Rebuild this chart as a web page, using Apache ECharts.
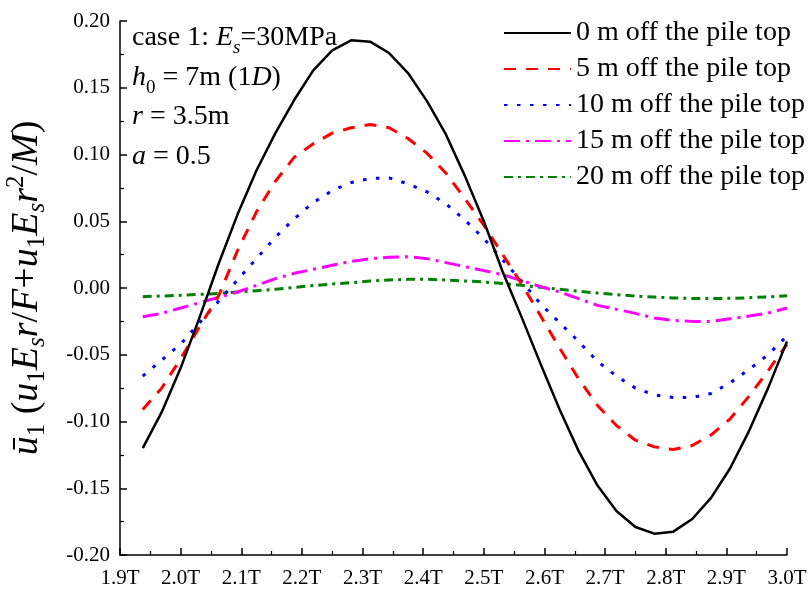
<!DOCTYPE html>
<html>
<head>
<meta charset="utf-8">
<script src="https://cdn.jsdelivr.net/npm/echarts@6/dist/echarts.min.js"></script>
<style>
  html, body { margin: 0; padding: 0; background: #ffffff; }
  #chart { width: 810px; height: 594px; }
</style>
</head>
<body>
<div id="chart"></div>
<script>
// Sampling instants, in periods T
const timeT = [1.9375, 1.96875, 2.0, 2.03125, 2.0625, 2.09375, 2.125, 2.15625, 2.1875, 2.21875,
  2.25, 2.28125, 2.3125, 2.34375, 2.375, 2.40625, 2.4375, 2.46875, 2.5, 2.53125,
  2.5625, 2.59375, 2.625, 2.65625, 2.6875, 2.71875, 2.75, 2.78125, 2.8125, 2.84375,
  2.875, 2.90625, 2.9375, 2.96875, 3.0];

// Normalised displacement at each depth below the pile top
const depth0m = [-0.120, -0.093, -0.060, -0.022, 0.018, 0.055, 0.088, 0.116, 0.141, 0.163,
  0.178, 0.1855, 0.1845, 0.176, 0.161, 0.140, 0.115, 0.084, 0.050, 0.012,
  -0.022, -0.057, -0.091, -0.122, -0.148, -0.167, -0.179, -0.184, -0.1825, -0.173,
  -0.157, -0.135, -0.107, -0.075, -0.040];
const depth5m = [-0.091, -0.075, -0.053, -0.029, -0.006, 0.028, 0.057, 0.080, 0.098, 0.108,
  0.116, 0.120, 0.1225, 0.120, 0.112, 0.101, 0.086, 0.067, 0.047, 0.025,
  0.003, -0.021, -0.045, -0.068, -0.088, -0.103, -0.114, -0.119, -0.121, -0.118,
  -0.110, -0.098, -0.081, -0.062, -0.042];
const depth10m = [-0.066, -0.054, -0.042, -0.026, -0.010, 0.006, 0.022, 0.038, 0.052, 0.064,
  0.073, 0.079, 0.082, 0.0825, 0.078, 0.072, 0.063, 0.051, 0.037, 0.021,
  0.005, -0.012, -0.026, -0.040, -0.055, -0.066, -0.075, -0.080, -0.082, -0.082,
  -0.079, -0.071, -0.061, -0.050, -0.036];
const depth15m = [-0.0215, -0.019, -0.015, -0.011, -0.007, -0.003, 0.002, 0.007, 0.011, 0.014,
  0.017, 0.020, 0.022, 0.023, 0.0235, 0.022, 0.019, 0.016, 0.013, 0.010,
  0.0055, 0.001, -0.003, -0.008, -0.013, -0.016, -0.019, -0.0225, -0.0243, -0.025,
  -0.025, -0.023, -0.021, -0.0187, -0.015];
const depth20m = [-0.0065, -0.006, -0.0055, -0.0048, -0.004, -0.003, -0.002, -0.001, 0.0005, 0.0018,
  0.003, 0.004, 0.0052, 0.006, 0.0065, 0.0065, 0.006, 0.0053, 0.0045, 0.0033,
  0.002, 0.0005, -0.001, -0.0024, -0.0038, -0.005, -0.006, -0.0068, -0.0074, -0.0078,
  -0.0079, -0.0077, -0.0073, -0.0066, -0.0058];

const seriesNames = ['0 m off the pile top', '5 m off the pile top', '10 m off the pile top',
  '15 m off the pile top', '20 m off the pile top'];

// Axis tick labels
const xTickLabels = ['1.9T', '2.0T', '2.1T', '2.2T', '2.3T', '2.4T', '2.5T', '2.6T', '2.7T', '2.8T', '2.9T', '3.0T'];
const yTickLabels = ['-0.20', '-0.15', '-0.10', '-0.05', '0.00', '0.05', '0.10', '0.15', '0.20'];

const FONT = 'Liberation Serif';

function pairs(values) {
  return timeT.map((t, i) => [t, values[i]]);
}

const styles = [
  { color: '#000000', width: 2.5, type: 'solid' },
  { color: '#ff0000', width: 3, type: [12, 10] },
  { color: '#0000ff', width: 3, type: [3.5, 9.5] },
  { color: '#ff00ff', width: 3, type: [16, 6, 3, 6] },
  { color: '#008000', width: 3, type: [9, 5, 3, 5] }
];
const allValues = [depth0m, depth5m, depth10m, depth15m, depth20m];

const series = allValues.map((vals, k) => ({
  name: seriesNames[k],
  type: 'line',
  data: pairs(vals),
  symbol: 'none',
  showSymbol: false,
  smooth: false,
  z: 10 - k,
  color: styles[k].color,
  lineStyle: { color: styles[k].color, width: styles[k].width, type: styles[k].type, cap: 'butt', join: 'round' }
}));

const sub = { fontFamily: FONT, fontSize: 25, lineHeight: 18, verticalAlign: 'bottom', color: '#000' };
const sup = { fontFamily: FONT, fontSize: 25, lineHeight: 24, verticalAlign: 'top', color: '#000' };
const titleRich = {
  it: { fontFamily: FONT, fontStyle: 'italic', fontSize: 38, lineHeight: 46, color: '#000' },
  up: { fontFamily: FONT, fontSize: 38, lineHeight: 46, color: '#000' },
  sb: sub,
  sbi: Object.assign({}, sub, { fontStyle: 'italic' }),
  sp: sup
};
const yTitle = '{it|ū}{sb|1}{up| (}{it|u}{sb|1}{it|E}{sbi|s}{it|r}{up|/}{it|F}{up|+}{it|u}{sb|1}{it|E}{sbi|s}{it|r}{sp|2}{up|/}{it|M}{up|)}';

const noteRich = {
  n: { fontFamily: FONT, fontSize: 28, lineHeight: 39.5, color: '#000' },
  i: { fontFamily: FONT, fontSize: 28, fontStyle: 'italic', lineHeight: 39.5, color: '#000' },
  s: { fontFamily: FONT, fontSize: 19, fontStyle: 'italic', lineHeight: 26, verticalAlign: 'bottom', color: '#000' },
  s0: { fontFamily: FONT, fontSize: 19, lineHeight: 26, verticalAlign: 'bottom', color: '#000' }
};
const noteText = [
  '{n|case 1: }{i|E}{s|s}{n|=30MPa}',
  '{i|h}{s0|0}{n| = 7m (1}{i|D}{n|)}',
  '{i|r}{n| = 3.5m}',
  '{i|a}{n| = 0.5}'
].join('\n');

const chart = echarts.init(document.getElementById('chart'), null, { renderer: 'canvas' });
chart.setOption({
  animation: false,
  backgroundColor: '#ffffff',
  grid: { left: 120, right: 23, top: 21, bottom: 39, containLabel: false, outerBoundsMode: 'none' },
  legend: {
    orient: 'vertical',
    left: 503,
    top: 19,
    padding: 0,
    itemWidth: 67,
    itemHeight: 14,
    itemGap: 8,
    itemStyle: { opacity: 0 },
    textStyle: { fontFamily: FONT, fontSize: 28, lineHeight: 27, color: '#000' },
    data: seriesNames
  },
  xAxis: {
    type: 'value',
    min: 1.9,
    max: 3.0,
    interval: 0.1,
    axisLine: { show: true, onZero: false, lineStyle: { color: '#000', width: 1.5 } },
    axisTick: { show: true, inside: true, length: 7, lineStyle: { color: '#000', width: 1.5 } },
    minorTick: { show: true, splitNumber: 2, length: 4, lineStyle: { color: '#000', width: 1.2 } },
    splitLine: { show: false },
    axisLabel: {
      margin: 13,
      fontFamily: FONT,
      fontSize: 21,
      color: '#000',
      formatter: (v) => xTickLabels[Math.round((v - 1.9) * 10)]
    }
  },
  yAxis: {
    type: 'value',
    min: -0.2,
    max: 0.2,
    interval: 0.05,
    name: yTitle,
    nameLocation: 'middle',
    nameRotate: 90,
    nameGap: 70,
    nameTextStyle: { rich: titleRich },
    axisLine: { show: true, onZero: false, lineStyle: { color: '#000', width: 1.5 } },
    axisTick: { show: true, inside: true, length: 7, lineStyle: { color: '#000', width: 1.5 } },
    minorTick: { show: true, splitNumber: 2, length: 4, lineStyle: { color: '#000', width: 1.2 } },
    splitLine: { show: false },
    axisLabel: {
      margin: 10,
      fontFamily: FONT,
      fontSize: 21,
      color: '#000',
      formatter: (v) => yTickLabels[Math.round((v + 0.2) * 20)]
    }
  },
  graphic: [{
    type: 'text',
    left: 132,
    top: 24,
    style: { text: noteText, rich: noteRich }
  }],
  series: series
});
</script>
</body>
</html>
